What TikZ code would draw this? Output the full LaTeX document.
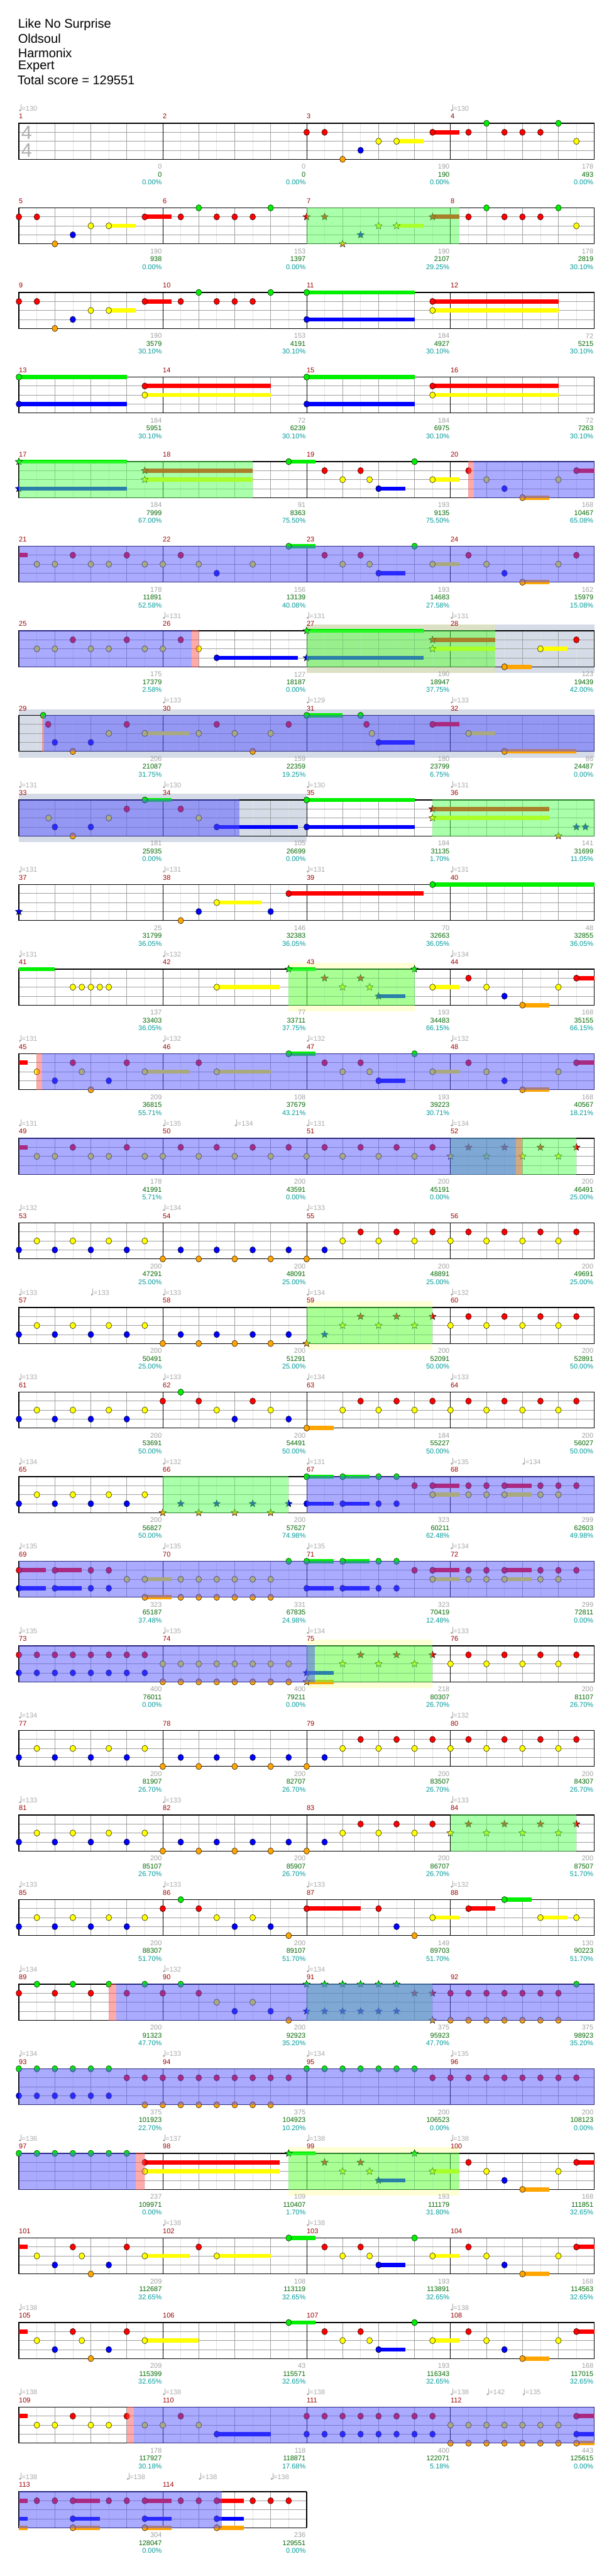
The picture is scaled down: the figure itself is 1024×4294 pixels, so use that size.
\documentclass[tikz,border=0pt]{standalone}
\usepackage{fontspec}
\setmainfont{Liberation Sans}
\usetikzlibrary{shapes.geometric}

\definecolor{lane0}{HTML}{00F000}
\definecolor{lane1}{HTML}{FF0000}
\definecolor{lane2}{HTML}{FFFF00}
\definecolor{lane3}{HTML}{0000FF}
\definecolor{lane4}{HTML}{FFA500}
\definecolor{barnum}{HTML}{990000}
\definecolor{statgray}{HTML}{A0A0A0}
\definecolor{statgreen}{HTML}{006600}
\definecolor{statteal}{HTML}{009999}
\definecolor{tempogray}{HTML}{A8A8A8}
\definecolor{sigray}{HTML}{B0B0B0}
\definecolor{gridlight}{HTML}{E2E2E2}
\definecolor{gridmid}{HTML}{A0A0A0}
\definecolor{spfill}{HTML}{55FF55}
\definecolor{odfill}{HTML}{5555FF}
\definecolor{pinkfill}{HTML}{FF5555}
\definecolor{slatebg}{HTML}{D5DCE8}
\definecolor{creambg}{HTML}{FFFFD5}
\definecolor{khakibg}{HTML}{DCE0C4}

\newcommand{\chartfont}{\fontsize{11.5}{13}\selectfont}

% grid of one row: #1 measures, first measure number #2
\newcommand{\staff}[2]{%
  \pgfmathtruncatemacro\lastk{8*#1}
  \foreach \slot in {1,...,\lastk} \draw[eighthline] ({31.5+30*\slot},0) -- ({31.5+30*\slot},60);
  \foreach \slot in {2,4,...,\lastk} \draw[beatline] ({31.5+30*\slot},0) -- ({31.5+30*\slot},60);
  \foreach \lane in {15,30,45} \draw[beatline] (31.5,\lane) -- ({31.5+30*\lastk},\lane);
  \foreach \slot in {8,16,...,\lastk} \draw[barline] ({31.5+30*\slot},0) -- ({31.5+30*\slot},60);
  \draw[staffframe] (31.5,0) rectangle ({31.5+30*\lastk},60);
  \foreach \mi in {1,...,#1} {
    \pgfmathtruncatemacro\mno{#2+\mi-1}
    \node[barno] at ({31.5+240*(\mi-1)},-11.5) {\mno};
  }
}
\newcommand{\stats}[1]{%
  \foreach \mi/\sgray/\sgreen/\steal in {#1} {
    \node[statA] at ({30+240*\mi},72.5) {\sgray};
    \node[statB] at ({30+240*\mi},85.5) {\sgreen};
    \node[statC] at ({30+240*\mi},98.5) {\steal\%};
  }
}
\newcommand{\tempos}[1]{%
  \foreach \slot/\bpm in {#1} {
    \fill[tempogray] ({33.3+30*\slot},-21.5) circle (1.8pt);
    \draw[tempogray, line width=0.7pt] ({34.9+30*\slot},-21.5) -- ({34.9+30*\slot},-31);
    \node[tempotext] at ({36+30*\slot},-24.5) {=\bpm};
  }
}
\newcommand{\holds}[1]{%
  \foreach \slot/\lane/\upto in {#1}
    \fill[lane\lane] ({31.5+30*\slot},{15*\lane-3.5}) rectangle ({31.5+30*\upto},{15*\lane+3.5});
}
\newcommand{\gems}[1]{%
  \foreach \slot/\lane in {#1} \node[gem, fill=lane\lane] at ({31.5+30*\slot},{15*\lane}) {};
}
\newcommand{\stars}[1]{%
  \foreach \slot/\lane in {#1} \node[stargem, fill=lane\lane] at ({31.5+30*\slot},{15*\lane}) {};
}
\newcommand{\zone}[3]{\fill[#1] ({31.5+30*#2},-0.6) rectangle ({31.5+30*#3},60.6);}
\newcommand{\band}[3]{\fill[#1] ({31.5+30*#2},-10) rectangle ({31.5+30*#3},70.5);}

\begin{document}
\begin{tikzpicture}[x=1pt, y=-1pt,
  title/.style={anchor=west, inner sep=0pt, font=\fontsize{21}{25}\selectfont},
  barno/.style={anchor=west, inner sep=0pt, text=barnum, font=\chartfont},
  statA/.style={anchor=east, inner sep=0pt, text=statgray, font=\chartfont},
  statB/.style={anchor=east, inner sep=0pt, text=statgreen, font=\chartfont},
  statC/.style={anchor=east, inner sep=0pt, text=statteal, font=\chartfont},
  tempotext/.style={anchor=west, inner sep=0pt, text=tempogray, font=\chartfont},
  timesig/.style={inner sep=0pt, text=sigray, font=\fontsize{32}{32}\selectfont},
  eighthline/.style={draw=gridlight, line width=0.8pt},
  beatline/.style={draw=gridmid, line width=0.8pt},
  barline/.style={draw=black, line width=0.8pt},
  staffframe/.style={draw=black, line width=1.2pt},
  gem/.style={ellipse, draw=black, line width=0.5pt, minimum width=9.5pt, minimum height=10.5pt, inner sep=0pt},
  stargem/.style={star, star points=5, star point ratio=2.3, draw=black, line width=0.5pt, minimum size=12.5pt, inner sep=0pt},
  spzone/.style={fill=spfill, fill opacity=0.5},
  odzone/.style={fill=odfill, fill opacity=0.5},
  pinkzone/.style={fill=pinkfill, fill opacity=0.5},
  slateband/.style={fill=slatebg},
  creamband/.style={fill=creambg},
  khakiband/.style={fill=khakibg}
]
\useasboundingbox (0,0) rectangle (1024,4294);

% header
\node[title] (song) at (30,41.7) {Like No Surprise};
\node[title] (artist) at (30,64.7) {Oldsoul};
\node[title] (charter) at (30,88) {Harmonix};
\node[title] (level) at (30,111) {Expert};
\node[title] (total) at (29,134) {Total score = 129551};

% row 1: measures 1-4
\begin{scope}[shift={(0,205.5)}]
\staff{4}{1}
\node[timesig] (sigtop) at (44.5,15.5) {4};
\node[timesig] (sigbot) at (44.5,45) {4};
\tempos{0/130, 24/130}
\stats{1/0/0/0.00, 2/0/0/0.00, 3/190/190/0.00, 4/178/493/0.00}
\holds{21/2/22.5, 23/1/24.5}
\gems{16/1, 17/1, 18/4, 19/3, 20/2, 21/2, 23/1, 25/1, 26/0, 27/1, 28/1, 29/1, 30/0, 31/2}
\end{scope}

% row 2: measures 5-8
\begin{scope}[shift={(0,346.5)}]
\staff{4}{5}
\stats{1/190/938/0.00, 2/153/1397/0.00, 3/190/2107/29.25, 4/178/2819/30.10}
\holds{5/2/6.5, 7/1/8.5, 21/2/22.5, 23/1/24.5}
\gems{0/1, 1/1, 2/4, 3/3, 4/2, 5/2, 7/1, 9/1, 10/0, 11/1, 12/1, 13/1, 14/0, 25/1, 26/0, 27/1, 28/1, 29/1, 30/0, 31/2}
\stars{16/1, 17/1, 18/4, 19/3, 20/2, 21/2, 23/1}
\zone{spzone}{16}{24.5}
\end{scope}

% row 3: measures 9-12
\begin{scope}[shift={(0,487.5)}]
\staff{4}{9}
\stats{1/190/3579/30.10, 2/153/4191/30.10, 3/184/4927/30.10, 4/72/5215/30.10}
\holds{5/2/6.5, 7/1/8.5, 16/0/22, 16/3/22, 23/1/30, 23/2/30}
\gems{0/1, 1/1, 2/4, 3/3, 4/2, 5/2, 7/1, 9/1, 10/0, 11/1, 12/1, 13/1, 14/0, 16/0, 16/3, 23/1, 23/2}
\end{scope}

% row 4: measures 13-16
\begin{scope}[shift={(0,628.5)}]
\staff{4}{13}
\stats{1/184/5951/30.10, 2/72/6239/30.10, 3/184/6975/30.10, 4/72/7263/30.10}
\holds{0/0/6, 0/3/6, 7/1/14, 7/2/14, 16/0/22, 16/3/22, 23/1/30, 23/2/30}
\gems{0/0, 0/3, 7/1, 7/2, 16/0, 16/3, 23/1, 23/2}
\end{scope}

% row 5: measures 17-20
\begin{scope}[shift={(0,769.5)}]
\staff{4}{17}
\stats{1/184/7999/67.00, 2/91/8363/75.50, 3/193/9135/75.50, 4/168/10467/65.08}
\holds{0/0/6, 0/3/6, 7/1/13, 7/2/13, 15/0/16.5, 20/3/21.5, 23/2/24.5, 28/4/29.5, 31/1/32}
\stars{0/0, 0/3, 7/1, 7/2}
\gems{15/0, 17/1, 18/2, 19/1, 19.5/2, 20/3, 22/0, 23/2, 25/1, 26/2, 27/3, 28/4, 30/2, 31/1}
\zone{spzone}{0}{13}
\zone{odzone}{25.3}{32}
\zone{pinkzone}{25}{25.3}
\end{scope}

% row 6: measures 21-24
\begin{scope}[shift={(0,910.5)}]
\staff{4}{21}
\stats{1/178/11891/52.58, 2/156/13139/40.08, 3/193/14683/27.58, 4/162/15979/15.08}
\holds{0/1/0.5, 15/0/16.5, 20/3/21.5, 23/2/24.5, 28/4/29.5}
\gems{1/2, 2/2, 3/1, 4/2, 5/2, 6/1, 7/2, 8/2, 9/1, 10/2, 11/3, 13/2, 15/0, 17/1, 18/2, 19/1, 19.5/2, 20/3, 22/0, 23/2, 25/1, 26/2, 27/3, 28/4, 30/2, 31/1}
\zone{odzone}{0}{32}
\end{scope}

% row 7: measures 25-28
\begin{scope}[shift={(0,1051.5)}]
\band{khakiband}{16}{26.5}
\band{slateband}{26.5}{32}
\staff{4}{25}
\tempos{8/131, 16/131, 24/131}
\stats{1/175/17379/2.58, 2/127/18187/0.00, 3/190/18947/37.75, 4/123/19439/42.00}
\holds{11/3/15.5, 16/0/22.5, 16/3/22.5, 23/1/26.5, 23/2/26.5, 27/4/28.5, 29/2/30.5}
\gems{1/2, 2/2, 3/1, 4/2, 5/2, 6/1, 7/2, 8/2, 9/1, 10/2, 11/3, 27/4, 29/2, 31/1}
\stars{16/0, 16/3, 23/1, 23/2}
\zone{spzone}{16}{26.5}
\zone{odzone}{0}{9.62}
\zone{pinkzone}{9.62}{10}
\end{scope}

% row 8: measures 29-32
\begin{scope}[shift={(0,1192.5)}]
\band{slateband}{0}{32}
\staff{4}{29}
\tempos{8/133, 16/129, 24/133}
\stats{1/206/21087/31.75, 2/159/22359/19.25, 3/180/23799/6.75, 4/86/24487/0.00}
\holds{7/2/9.5, 16/0/18, 20/3/22, 23/1/24.5, 25/2/26.5, 27/4/31}
\gems{1.35/0, 1.63/1, 2/3, 3/4, 4/3, 5/2, 6/1, 7/2, 10/2, 11/1, 12/2, 13/4, 14/2, 15/1, 16/0, 19/0, 19.33/1, 19.63/2, 20/3, 23/1, 25/2, 27/4}
\zone{odzone}{1.39}{32}
\zone{pinkzone}{1.28}{1.39}
\end{scope}

% row 9: measures 33-36
\begin{scope}[shift={(0,1333.5)}]
\band{slateband}{0}{16}
\staff{4}{33}
\tempos{0/131, 8/130, 16/130, 24/131}
\stats{1/181/25935/0.00, 2/105/26699/0.00, 3/184/31135/1.70, 4/141/31699/11.05}
\holds{7/0/8.5, 11/3/15.5, 16/0/22, 16/3/22, 23/1/29.5, 23/2/29.5}
\gems{1.65/2, 2/3, 3/4, 4/3, 5/2, 6/1, 7/0, 9/1, 10/2, 11/3, 16/0, 16/3}
\stars{23/1, 23/2, 30/4, 31/3, 31.5/3}
\zone{spzone}{23}{32}
\zone{odzone}{0}{12.28}
\end{scope}

% row 10: measures 37-40
\begin{scope}[shift={(0,1474.5)}]
\staff{4}{37}
\tempos{0/131, 8/131, 16/131, 24/131}
\stats{1/25/31799/36.05, 2/146/32383/36.05, 3/70/32663/36.05, 4/48/32855/36.05}
\holds{11/2/13.5, 15/1/22.5, 23/0/32}
\gems{9/4, 10/3, 11/2, 14/3, 15/1, 23/0}
\stars{0/3}
\end{scope}

% row 11: measures 41-44
\begin{scope}[shift={(0,1615.5)}]
\band{creamband}{15}{22}
\staff{4}{41}
\tempos{0/131, 8/132, 24/134}
\stats{1/137/33403/36.05, 2/77/33711/37.75, 3/193/34483/66.15, 4/168/35155/66.15}
\holds{0/0/2, 11/2/14.5, 15/0/16.5, 20/3/21.5, 23/2/24.5, 28/4/29.5, 31/1/32}
\gems{3/2, 3.5/2, 4/2, 4.5/2, 5/2, 11/2, 23/2, 25/1, 26/2, 27/3, 28/4, 30/2, 31/1}
\stars{15/0, 17/1, 18/2, 19/1, 19.5/2, 20/3, 22/0}
\zone{spzone}{15}{22}
\end{scope}

% row 12: measures 45-48
\begin{scope}[shift={(0,1756.5)}]
\staff{4}{45}
\tempos{0/131, 8/132, 16/132, 24/132}
\stats{1/209/36815/55.71, 2/108/37679/43.21, 3/193/39223/30.71, 4/168/40567/18.21}
\holds{0/1/0.5, 7/2/9.5, 11/2/14, 15/0/16.5, 20/3/21.5, 23/2/24.5, 28/4/29.5, 31/1/32}
\gems{1/2, 2/3, 3/1, 3.5/2, 4/4, 5/3, 6/1, 7/2, 10/1, 11/2, 15/0, 17/1, 18/2, 19/1, 19.5/2, 20/3, 22/0, 23/2, 25/1, 26/2, 27/3, 28/4, 30/2, 31/1}
\zone{odzone}{1.28}{32}
\zone{pinkzone}{0.98}{1.28}
\end{scope}

% row 13: measures 49-52
\begin{scope}[shift={(0,1897.5)}]
\staff{4}{49}
\tempos{0/131, 8/135, 12/134, 16/131, 24/134}
\stats{1/178/41991/5.71, 2/200/43591/0.00, 3/200/45191/0.00, 4/200/46491/25.00}
\holds{0/1/0.5}
\gems{1/2, 2/2, 3/1, 4/2, 5/2, 6/1, 7/2, 8/2, 9/1, 10/2, 11/1, 12/2, 13/1, 14/2, 15/1, 16/2, 17/1, 18/2, 19/1, 20/2, 21/1, 22/2, 23/1}
\stars{24/2, 25/1, 26/2, 27/1, 28/2, 29/1, 30/2, 31/1}
\zone{spzone}{24}{31}
\zone{odzone}{0}{27.64}
\zone{pinkzone}{27.64}{28}
\end{scope}

% row 14: measures 53-56
\begin{scope}[shift={(0,2038.5)}]
\staff{4}{53}
\tempos{0/132, 8/134, 16/133}
\stats{1/200/47291/25.00, 2/200/48091/25.00, 3/200/48891/25.00, 4/200/49691/25.00}
\gems{0/3, 1/2, 2/3, 3/2, 4/3, 5/2, 6/3, 7/2, 8/4, 9/3, 10/4, 11/3, 12/4, 13/3, 14/4, 15/3, 16/4, 17/3, 18/2, 19/1, 20/2, 21/1, 22/2, 23/1, 24/2, 25/1, 26/2, 27/1, 28/2, 29/1, 30/2, 31/1}
\end{scope}

% row 15: measures 57-60
\begin{scope}[shift={(0,2179.5)}]
\band{creamband}{16}{23}
\staff{4}{57}
\tempos{0/133, 4/133, 8/133, 16/134, 24/132}
\stats{1/200/50491/25.00, 2/200/51291/25.00, 3/200/52091/50.00, 4/200/52891/50.00}
\gems{0/3, 1/2, 2/3, 3/2, 4/3, 5/2, 6/3, 7/2, 8/4, 9/3, 10/4, 11/3, 12/4, 13/3, 14/4, 15/3, 24/2, 25/1, 26/2, 27/1, 28/2, 29/1, 30/2, 31/1}
\stars{16/4, 17/3, 18/2, 19/1, 20/2, 21/1, 22/2, 23/1}
\zone{spzone}{16}{23}
\end{scope}

% row 16: measures 61-64
\begin{scope}[shift={(0,2320.5)}]
\staff{4}{61}
\tempos{0/133, 8/133, 16/134, 24/133}
\stats{1/200/53691/50.00, 2/200/54491/50.00, 3/184/55227/50.00, 4/200/56027/50.00}
\holds{16/4/17.5}
\gems{0/3, 1/2, 2/3, 3/2, 4/3, 5/2, 6/3, 7/2, 8/1, 9/0, 10/1, 11/2, 12/3, 13/1, 14/2, 15/3, 16/4, 18/2, 19/1, 20/2, 21/1, 22/2, 23/1, 24/2, 25/1, 26/2, 27/1, 28/2, 29/1, 30/2, 31/1}
\end{scope}

% row 17: measures 65-68
\begin{scope}[shift={(0,2461.5)}]
\staff{4}{65}
\tempos{0/134, 8/132, 16/131, 24/135, 28/134}
\stats{1/200/56827/50.00, 2/200/57627/74.98, 3/323/60211/62.48, 4/299/62603/49.98}
\holds{16/0/17.5, 16/3/17.5, 18/0/19.5, 18/3/19.5, 23/1/24.5, 23/2/24.5, 27/1/28.5, 27/2/28.5}
\gems{0/3, 1/2, 2/3, 3/2, 4/3, 5/2, 6/3, 7/2, 16/0, 16/3, 18/0, 18/3, 20/0, 20/3, 21/0, 21/3, 22/1, 23/1, 23/2, 25/1, 25/2, 26/1, 26/2, 27/1, 27/2, 29/1, 29/2, 30/1, 30/2, 31/1}
\stars{8/4, 9/3, 10/4, 11/3, 12/4, 13/3, 14/4, 15/3}
\zone{spzone}{8}{15}
\zone{odzone}{16}{32}
\end{scope}

% row 18: measures 69-72
\begin{scope}[shift={(0,2602.5)}]
\staff{4}{69}
\tempos{0/135, 8/135, 16/135, 24/134}
\stats{1/323/65187/37.48, 2/331/67835/24.98, 3/323/70419/12.48, 4/299/72811/0.00}
\holds{0/1/1.5, 0/3/1.5, 2/1/3.5, 2/3/3.5, 7/2/8.5, 7/4/8.5, 16/0/17.5, 16/3/17.5, 18/0/19.5, 18/3/19.5, 23/1/24.5, 23/2/24.5, 27/1/28.5, 27/2/28.5}
\gems{0/1, 0/3, 2/1, 2/3, 4/1, 4/3, 5/1, 5/3, 6/2, 7/2, 7/4, 9/2, 9/4, 10/2, 10/4, 11/2, 11/4, 12/2, 12/4, 13/2, 13/4, 14/2, 14/4, 15/0, 16/0, 16/3, 18/0, 18/3, 20/0, 20/3, 21/0, 21/3, 22/1, 23/1, 23/2, 25/1, 25/2, 26/1, 26/2, 27/1, 27/2, 29/1, 29/2, 30/1, 30/2, 31/1}
\zone{odzone}{0}{32}
\end{scope}

% row 19: measures 73-76
\begin{scope}[shift={(0,2743.5)}]
\band{creamband}{16}{23}
\staff{4}{73}
\tempos{0/135, 8/135, 16/134, 24/133}
\stats{1/400/76011/0.00, 2/400/79211/0.00, 3/218/80307/26.70, 4/200/81107/26.70}
\holds{16/3/17.5, 16/4/17.5}
\gems{0/1, 1/1, 2/1, 3/1, 4/1, 5/1, 6/1, 7/1, 0/3, 1/3, 2/3, 3/3, 4/3, 5/3, 6/3, 7/3, 8/2, 9/2, 10/2, 11/2, 12/2, 13/2, 14/2, 15/2, 8/4, 9/4, 10/4, 11/4, 12/4, 13/4, 14/4, 15/4, 24/2, 25/1, 26/2, 27/1, 28/2, 29/1, 30/2, 31/1}
\stars{16/3, 16/4, 18/2, 19/1, 20/2, 21/1, 22/2, 23/1}
\zone{spzone}{16}{23}
\zone{odzone}{0}{16.47}
\end{scope}

% row 20: measures 77-80
\begin{scope}[shift={(0,2884.5)}]
\staff{4}{77}
\tempos{0/134, 24/132}
\stats{1/200/81907/26.70, 2/200/82707/26.70, 3/200/83507/26.70, 4/200/84307/26.70}
\gems{0/3, 1/2, 2/3, 3/2, 4/3, 5/2, 6/3, 7/2, 8/4, 9/3, 10/4, 11/3, 12/4, 13/3, 14/4, 15/3, 16/4, 17/3, 18/2, 19/1, 20/2, 21/1, 22/2, 23/1, 24/2, 25/1, 26/2, 27/1, 28/2, 29/1, 30/2, 31/1}
\end{scope}

% row 21: measures 81-84
\begin{scope}[shift={(0,3025.5)}]
\staff{4}{81}
\tempos{0/133, 8/133, 24/133}
\stats{1/200/85107/26.70, 2/200/85907/26.70, 3/200/86707/26.70, 4/200/87507/51.70}
\gems{0/3, 1/2, 2/3, 3/2, 4/3, 5/2, 6/3, 7/2, 8/4, 9/3, 10/4, 11/3, 12/4, 13/3, 14/4, 15/3, 16/4, 17/3, 18/2, 19/1, 20/2, 21/1, 22/2, 23/1}
\stars{24/2, 25/1, 26/2, 27/1, 28/2, 29/1, 30/2, 31/1}
\zone{spzone}{24}{31}
\end{scope}

% row 22: measures 85-88
\begin{scope}[shift={(0,3166.5)}]
\staff{4}{85}
\tempos{0/133, 8/133, 16/133, 24/132}
\stats{1/200/88307/51.70, 2/200/89107/51.70, 3/149/89703/51.70, 4/130/90223/51.70}
\holds{16/1/19, 23/2/24.5, 25/1/26.5, 27/0/28.5, 29/2/30.5}
\gems{0/3, 1/2, 2/3, 3/2, 4/3, 5/2, 6/3, 7/2, 8/1, 9/0, 10/1, 11/2, 12/3, 13/2, 14/3, 15/4, 16/1, 20/1, 21/3, 22/4, 23/2, 25/1, 27/0, 29/2, 31/2}
\end{scope}

% row 23: measures 89-92
\begin{scope}[shift={(0,3307.5)}]
\staff{4}{89}
\tempos{0/134, 8/132, 16/134}
\stats{1/200/91323/47.70, 2/200/92923/35.20, 3/375/95923/47.70, 4/375/98923/35.20}
\gems{0/1, 1/0, 2/1, 3/0, 4/1, 5/0, 6/1, 7/0, 8/1, 9/0, 10/1, 11/2, 12/3, 13/2, 14/3, 15/4, 24/1, 24/4, 25/1, 25/4, 26/1, 26/4, 27/1, 27/4, 28/1, 28/4, 29/1, 29/4, 30/1, 30/4, 31/0}
\stars{16/0, 16/3, 17/0, 17/3, 18/0, 18/3, 19/0, 19/3, 20/0, 20/3, 21/0, 21/3, 22/1, 23/1, 23/4}
\zone{spzone}{16}{23}
\zone{odzone}{5.42}{32}
\zone{pinkzone}{5}{5.42}
\end{scope}

% row 24: measures 93-96
\begin{scope}[shift={(0,3448.5)}]
\staff{4}{93}
\tempos{0/134, 8/133, 16/134, 24/135}
\stats{1/375/101923/22.70, 2/375/104923/10.20, 3/200/106523/0.00, 4/200/108123/0.00}
\gems{0/0, 1/0, 2/0, 3/0, 4/0, 5/0, 0/3, 1/3, 2/3, 3/3, 4/3, 5/3, 6/1, 7/1, 8/1, 9/1, 10/1, 11/1, 12/1, 13/1, 14/1, 15/1, 7/4, 8/4, 9/4, 10/4, 11/4, 12/4, 13/4, 14/4, 16/0, 17/0, 18/0, 19/0, 20/0, 21/0, 22/0, 23/1, 24/1, 25/1, 26/1, 27/1, 28/1, 29/1, 30/1, 31/1}
\zone{odzone}{0}{32}
\end{scope}

% row 25: measures 97-100
\begin{scope}[shift={(0,3589.5)}]
\band{creamband}{15}{24.5}
\staff{4}{97}
\tempos{0/136, 8/137, 16/138, 24/138}
\stats{1/237/109971/0.00, 2/109/110407/1.70, 3/193/111179/31.80, 4/168/111851/32.65}
\holds{7/1/14.5, 7/2/14.5, 15/0/16.5, 20/3/21.5, 23/2/24.5, 28/4/29.5, 31/1/32}
\gems{0/0, 1/0, 2/0, 3/0, 4/0, 5/0, 6/0, 7/1, 7/2, 25/1, 26/2, 27/3, 28/4, 30/2, 31/1}
\stars{15/0, 17/1, 18/2, 19/1, 19.5/2, 20/3, 22/0, 23/2}
\zone{spzone}{15}{24.5}
\zone{odzone}{0}{6.5}
\zone{pinkzone}{6.5}{7}
\end{scope}

% row 26: measures 101-104
\begin{scope}[shift={(0,3730.5)}]
\staff{4}{101}
\tempos{8/138, 16/138}
\stats{1/209/112687/32.65, 2/108/113119/32.65, 3/193/113891/32.65, 4/168/114563/32.65}
\holds{0/1/0.5, 7/2/9.5, 11/2/14, 15/0/16.5, 20/3/21.5, 23/2/24.5, 28/4/29.5, 31/1/32}
\gems{1/2, 2/3, 3/1, 3.5/2, 4/4, 5/3, 6/1, 7/2, 10/1, 11/2, 15/0, 17/1, 18/2, 19/1, 19.5/2, 20/3, 22/0, 23/2, 25/1, 26/2, 27/3, 28/4, 30/2, 31/1}
\end{scope}

% row 27: measures 105-108
\begin{scope}[shift={(0,3871.5)}]
\staff{4}{105}
\tempos{0/138, 24/138}
\stats{1/209/115399/32.65, 2/43/115571/32.65, 3/193/116343/32.65, 4/168/117015/32.65}
\holds{0/1/0.5, 7/2/10, 15/0/16.5, 20/3/21.5, 23/2/24.5, 28/4/29.5, 31/1/32}
\gems{1/2, 2/3, 3/1, 3.5/2, 4/4, 5/3, 6/1, 7/2, 15/0, 17/1, 18/2, 19/1, 19.5/2, 20/3, 22/0, 23/2, 25/1, 26/2, 27/3, 28/4, 30/2, 31/1}
\end{scope}

% row 28: measures 109-112
\begin{scope}[shift={(0,4012.5)}]
\staff{4}{109}
\tempos{0/138, 8/138, 16/138, 24/138, 26/142, 28/135}
\stats{1/178/117927/30.18, 2/118/118871/17.68, 3/400/122071/5.18, 4/443/125615/0.00}
\holds{0/1/0.5, 11/3/14, 31/1/32, 31/3/32, 31/4/32}
\gems{1/2, 2/2, 3/1, 4/2, 5/2, 6/1, 7/2, 8/2, 9/1, 10/2, 11/3, 16/1, 17/1, 18/1, 19/1, 20/1, 21/1, 22/1, 23/1, 16/3, 17/3, 18/3, 19/3, 20/3, 21/3, 22/3, 23/3, 24/2, 25/2, 26/2, 27/2, 28/2, 29/2, 30/2, 24/4, 25/4, 26/4, 27/4, 28/4, 29/4, 30/4, 31/1, 31/3, 31/4}
\zone{odzone}{6.38}{32}
\zone{pinkzone}{6}{6.38}
\end{scope}

% row 29: measures 113-114
\begin{scope}[shift={(0,4153.5)}]
\staff{2}{113}
\tempos{0/138, 6/138, 10/138, 14/138}
\stats{1/304/128047/0.00, 2/236/129551/0.00}
\holds{0/1/0.5, 0/3/0.5, 0/4/0.5, 3/1/4.5, 3/3/4.5, 3/4/4.5, 7/1/8.5, 7/3/8.5, 7/4/8.5, 11/1/12.5, 11/3/12.5, 11/4/12.5}
\gems{1/1, 2/1, 3/1, 3/3, 3/4, 5/1, 6/1, 7/1, 7/3, 7/4, 9/1, 10/1, 11/1, 11/3, 11/4, 13/1, 14/1, 15/1}
\zone{odzone}{0}{11.29}
\end{scope}

\end{tikzpicture}
\end{document}
